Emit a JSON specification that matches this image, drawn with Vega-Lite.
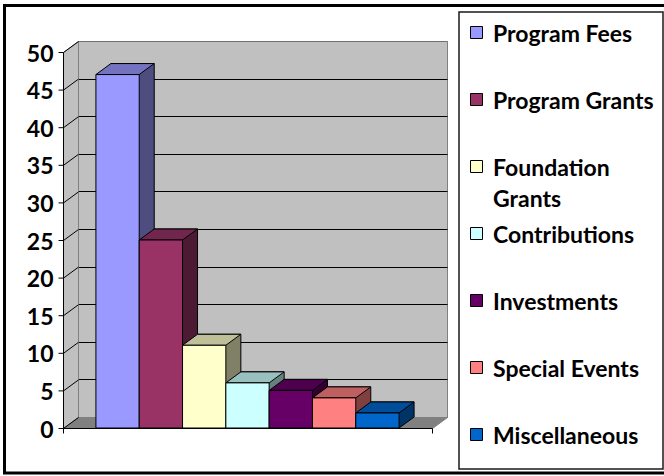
{
  "$schema": "https://vega.github.io/schema/vega-lite/v6.json",
  "autosize": {"type": "none"},
  "padding": {"left": 78, "top": 41, "right": 217, "bottom": 59},
  "width": 369,
  "height": 376,
  "background": "white",
  "config": {
    "view": {"fill": "#C0C0C0", "stroke": "#808080", "strokeWidth": 1}
  },
  "data": {
    "values": [
      {"source": "Program Fees", "value": 47},
      {"source": "Program Grants", "value": 25},
      {"source": "Foundation Grants", "value": 11},
      {"source": "Contributions", "value": 6},
      {"source": "Investments", "value": 5},
      {"source": "Special Events", "value": 4},
      {"source": "Miscellaneous", "value": 2}
    ]
  },
  "encoding": {
    "x": {"field": "source", "type": "nominal", "sort": null,
          "scale": {"paddingInner": 0, "paddingOuter": 0.76}, "axis": null},
    "y": {"field": "value", "type": "quantitative",
          "scale": {"domain": [0, 50], "nice": false, "zero": true},
          "axis": {
            "values": [0, 5, 10, 15, 20, 25, 30, 35, 40, 45, 50],
            "grid": true,
            "gridColor": {"condition": {"test": "datum.value === 50", "value": "#707070"}, "value": "black"},
            "gridWidth": 1,
            "domain": false, "ticks": false, "tickSize": 0,
            "labelPadding": 25, "labelOffset": 13,
            "labelFont": "Lato", "labelFontSize": 23, "labelFontWeight": "bold", "labelColor": "black",
            "labelFlush": false, "labelOverlap": false, "labelBound": false,
            "title": null
          }}
  },
  "layer": [
    {
      "data": {"values": [{"part": "wall"}]},
      "mark": {"type": "point", "shape": "M 0 0 L 0 -376 L -15 -365 L -15 11 Z", "size": 4,
               "filled": true, "fill": "#C0C0C0", "stroke": "#808080", "strokeWidth": 1, "opacity": 1},
      "encoding": {"x": {"value": 0.5}, "y": {"value": 376.5}}
    },
    {
      "data": {"values": [{"part": "floor"}]},
      "mark": {"type": "point", "shape": "M -15 11 L 0 0 L 369 0 L 354 11 Z", "size": 4,
               "filled": true, "fill": "#808080", "stroke": "#808080", "strokeWidth": 1, "opacity": 1},
      "encoding": {"x": {"value": 0.5}, "y": {"value": 376.5}}
    },
    {
      "data": {"values": [{"part": "lines"}]},
      "mark": {"type": "point",
               "shape": "M -15 11 L 0 0 M -15 -26.6 L 0 -37.6 M -15 -64.2 L 0 -75.2 M -15 -101.8 L 0 -112.8 M -15 -139.4 L 0 -150.4 M -15 -177 L 0 -188 M -15 -214.6 L 0 -225.6 M -15 -252.2 L 0 -263.2 M -15 -289.8 L 0 -300.8 M -15 -327.4 L 0 -338.4 M -15 -365 L 0 -376 M -20 11 L -15 11 M -20 -26.6 L -15 -26.6 M -20 -64.2 L -15 -64.2 M -20 -101.8 L -15 -101.8 M -20 -139.4 L -15 -139.4 M -20 -177 L -15 -177 M -20 -214.6 L -15 -214.6 M -20 -252.2 L -15 -252.2 M -20 -289.8 L -15 -289.8 M -20 -327.4 L -15 -327.4 M -20 -365 L -15 -365 M -15 11 L -15 -365 M -15 11 L 354 11 M -15 11 L -15 16 M 354 11 L 354 16",
               "size": 4, "filled": false, "stroke": "black", "fill": null, "strokeWidth": 1, "opacity": 1},
      "encoding": {"x": {"value": 0.5}, "y": {"value": 376.5}}
    },
    {
      "mark": {"type": "bar", "stroke": "black", "strokeWidth": 1, "opacity": 1},
      "encoding": {
        "color": {"field": "source", "type": "nominal", "legend": null,
                  "scale": {"domain": ["Program Fees", "Program Grants", "Foundation Grants", "Contributions", "Investments", "Special Events", "Miscellaneous"],
                            "range": ["#4D4D80", "#4D1A33", "#808066", "#668080", "#330033", "#804040", "#003366"]}}
      }
    },
    {
      "mark": {"type": "point", "shape": "M -21.65 0 L 21.65 0 L 6.65 11 L -36.65 11 Z", "size": 4,
               "filled": true, "stroke": "black", "strokeWidth": 1, "opacity": 1},
      "encoding": {
        "color": {"field": "source", "type": "nominal", "legend": null,
                  "scale": {"domain": ["Program Fees", "Program Grants", "Foundation Grants", "Contributions", "Investments", "Special Events", "Miscellaneous"],
                            "range": ["#7373BF", "#73264D", "#BFBF99", "#99BFBF", "#4D004D", "#BF6060", "#004D99"]}}
      }
    },
    {
      "mark": {"type": "point", "shape": "M 6.65 11 L 21.65 0 L 21.65 -1 L 6.65 -1 Z", "size": 4,
               "filled": true, "strokeWidth": 0, "opacity": 1},
      "encoding": {
        "y": {"datum": 0},
        "color": {"field": "source", "type": "nominal", "legend": null,
                  "scale": {"domain": ["Program Fees", "Program Grants", "Foundation Grants", "Contributions", "Investments", "Special Events", "Miscellaneous"],
                            "range": ["#4D4D80", "#4D1A33", "#808066", "#668080", "#330033", "#804040", "#003366"]}}
      }
    },
    {
      "mark": {"type": "point", "shape": "M 6.65 11 L 21.65 0", "size": 4,
               "filled": false, "stroke": "black", "strokeWidth": 1, "opacity": 1},
      "encoding": {"y": {"datum": 0}}
    },
    {
      "mark": {"type": "bar", "stroke": "black", "strokeWidth": 1, "opacity": 1,
               "xOffset": -15, "yOffset": 11, "y2Offset": 11},
      "encoding": {
        "color": {"field": "source", "type": "nominal",
                  "scale": {"domain": ["Program Fees", "Program Grants", "Foundation Grants", "Contributions", "Investments", "Special Events", "Miscellaneous"],
                            "range": ["#9999FF", "#993366", "#FFFFCC", "#CCFFFF", "#660066", "#FF8080", "#0066CC"]},
                  "legend": {
                    "orient": "none", "legendX": 381, "legendY": -29,
                    "title": null, "columns": 1, "direction": "vertical",
                    "padding": 9, "strokeColor": "#1a1a1a", "fillColor": "white",
                    "symbolType": "square", "symbolSize": 144, "symbolStrokeColor": "black",
                    "symbolStrokeWidth": 1, "symbolOpacity": 1, "symbolOffset": -3,
                    "labelOffset": 5, "rowPadding": 10, "labelLimit": 400,
                    "labelFont": "Lato", "labelFontSize": 23, "labelFontWeight": "bold", "labelColor": "black",
                    "labelExpr": "datum.label == 'Foundation Grants' ? ['Foundation', 'Grants'] : [datum.label, '']",
                    "encode": {
                      "labels": {"update": {"lineHeight": {"signal": "datum.label === 'Miscellaneous' ? 11 : 31"}, "dy": {"value": 2}}},
                      "legend": {"update": {"strokeWidth": {"value": 1.5}}}
                    }
                  }}
      }
    },
    {
      "data": {"values": [{"part": "frame"}]},
      "mark": {"type": "rect", "fillOpacity": 0, "stroke": "black", "strokeWidth": 3},
      "encoding": {"x": {"value": -73.5}, "x2": {"value": 589}, "y": {"value": -35.5}, "y2": {"value": 432}}
    }
  ],
  "resolve": {"scale": {"color": "independent"}}
}
